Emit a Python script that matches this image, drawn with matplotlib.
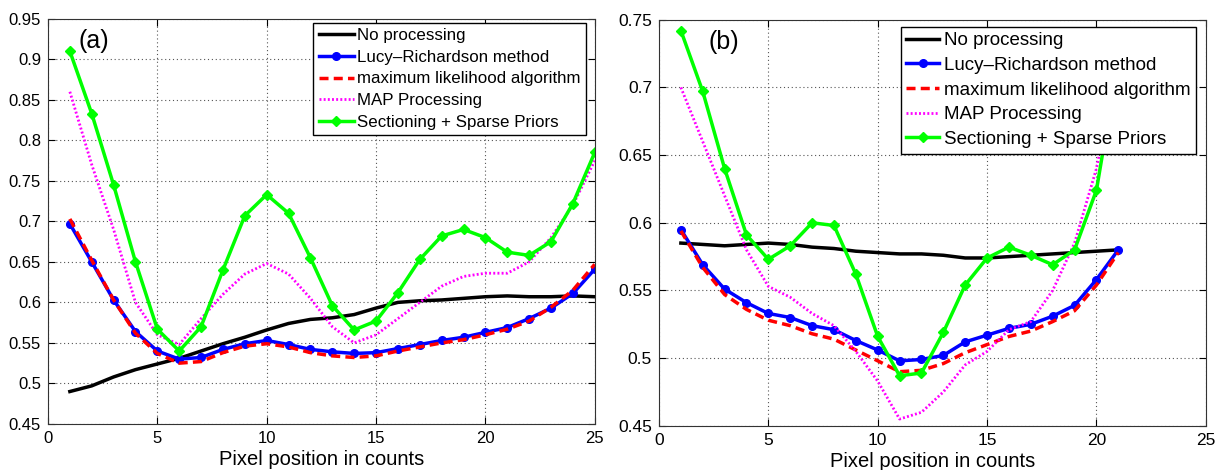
import numpy as np
import matplotlib
matplotlib.use('Agg')
import matplotlib.pyplot as plt
from matplotlib.ticker import FuncFormatter

plt.rcParams['font.family'] = ['Liberation Sans', 'DejaVu Sans']

labels = ['No processing', 'Lucy\u2013Richardson method', 'maximum likelihood algorithm',
          'MAP Processing', 'Sectioning + Sparse Priors']

# panel (a): 25 pixels
x_a = np.arange(1, 26)
none_a = [0.490, 0.497, 0.508, 0.517, 0.524, 0.531, 0.540, 0.549, 0.557, 0.566,
          0.574, 0.579, 0.581, 0.585, 0.593, 0.600, 0.602, 0.603, 0.605, 0.607,
          0.608, 0.607, 0.607, 0.608, 0.607]
lr_a = [0.697, 0.650, 0.603, 0.564, 0.540, 0.530, 0.532, 0.542, 0.549, 0.553,
        0.548, 0.542, 0.539, 0.537, 0.538, 0.543, 0.548, 0.553, 0.557, 0.563,
        0.569, 0.580, 0.593, 0.611, 0.641]
ml_a = [0.703, 0.652, 0.603, 0.562, 0.537, 0.525, 0.527, 0.538, 0.546, 0.549,
        0.545, 0.538, 0.534, 0.532, 0.534, 0.540, 0.545, 0.550, 0.554, 0.560,
        0.567, 0.577, 0.594, 0.615, 0.647]
map_a = [0.860, 0.770, 0.690, 0.600, 0.560, 0.548, 0.580, 0.610, 0.635, 0.648,
         0.635, 0.605, 0.570, 0.550, 0.560, 0.580, 0.600, 0.620, 0.632, 0.636,
         0.636, 0.650, 0.680, 0.720, 0.775]
sp_a = [0.910, 0.833, 0.745, 0.650, 0.567, 0.540, 0.570, 0.640, 0.707, 0.733,
        0.710, 0.655, 0.596, 0.566, 0.577, 0.612, 0.653, 0.682, 0.690, 0.680,
        0.662, 0.658, 0.675, 0.722, 0.785]

# panel (b): 21 pixels
x_b = np.arange(1, 22)
none_b = [0.585, 0.584, 0.583, 0.584, 0.585, 0.584, 0.582, 0.581, 0.579, 0.578,
          0.577, 0.577, 0.576, 0.574, 0.574, 0.575, 0.576, 0.577, 0.578, 0.579, 0.580]
lr_b = [0.595, 0.569, 0.551, 0.541, 0.533, 0.530, 0.524, 0.521, 0.513, 0.506,
        0.498, 0.499, 0.502, 0.512, 0.517, 0.522, 0.525, 0.531, 0.539, 0.558, 0.580]
ml_b = [0.594, 0.567, 0.547, 0.536, 0.528, 0.524, 0.518, 0.514, 0.506, 0.498,
        0.490, 0.491, 0.496, 0.504, 0.510, 0.516, 0.520, 0.527, 0.535, 0.554, 0.578]
map_b = [0.700, 0.660, 0.620, 0.580, 0.553, 0.545, 0.533, 0.524, 0.505, 0.483,
         0.455, 0.460, 0.475, 0.495, 0.505, 0.521, 0.527, 0.550, 0.585, 0.640, 0.720]
sp_b = [0.742, 0.697, 0.640, 0.591, 0.573, 0.583, 0.600, 0.598, 0.562, 0.516,
        0.487, 0.489, 0.519, 0.554, 0.574, 0.582, 0.576, 0.569, 0.580, 0.624, 0.720]

fig = plt.figure(figsize=(12.15, 4.7), dpi=100)
ax_a = fig.add_axes([0.0395, 0.098, 0.450, 0.862])
ax_b = fig.add_axes([0.5424, 0.094, 0.450, 0.864])

fmt = FuncFormatter(lambda v, p: f'{v:g}')


def draw(ax, x, none, lr, ml, mp, sp, ymax, tag, tag_x, tick_fs, leg_fs, leg_anchor,
         textpad, hlen):
    ax.plot(x, none, color='black', lw=2.5, label=labels[0])
    ax.plot(x, lr, color='#0000ff', lw=2.5, marker='o', ms=5.5, label=labels[1])
    ax.plot(x, ml, color='#ff0000', lw=2.5, ls=(0, (2.6, 1.5)), label=labels[2])
    ax.plot(x, mp, color='#ff00ff', lw=2.0, ls=(0, (0.7, 0.8)), label=labels[3])
    ax.plot(x, sp, color='#00ff00', lw=2.5, marker='D', ms=5, label=labels[4])
    ax.set_xlim(0, 25)
    ax.set_ylim(0.45, ymax)
    ax.set_xticks(np.arange(0, 26, 5))
    ax.set_yticks(np.arange(0.45, ymax + 0.001, 0.05))
    ax.yaxis.set_major_formatter(fmt)
    ax.grid(True, color='#555555', ls=(0, (1, 2.5)), lw=0.8)
    ax.tick_params(direction='in', top=True, right=True, labelsize=tick_fs, length=5, pad=5)
    ax.set_xlabel('Pixel position in counts', fontsize=14.5, labelpad=3)
    for s in ax.spines.values():
        s.set_color('#333333')
    ax.text(tag_x, 0.975, tag, transform=ax.transAxes, fontsize=18, va='top', ha='left')
    leg = ax.legend(loc='upper right', bbox_to_anchor=leg_anchor, fontsize=leg_fs,
                    handlelength=hlen, handletextpad=textpad, labelspacing=0.4,
                    borderpad=0.3, borderaxespad=0, fancybox=False, framealpha=1)
    leg.get_frame().set_edgecolor('black')
    leg.get_frame().set_linewidth(1.0)


draw(ax_a, x_a, none_a, lr_a, ml_a, map_a, sp_a, 0.95, '(a)', 0.055,
     12, 12.2, (0.9835, 0.99), 0.18, 2.1)
draw(ax_b, x_b, none_b, lr_b, ml_b, map_b, sp_b, 0.75, '(b)', 0.09,
     12.5, 13.5, (0.982, 0.983), 0.25, 1.75)

fig.savefig('out.png', dpi=100)
